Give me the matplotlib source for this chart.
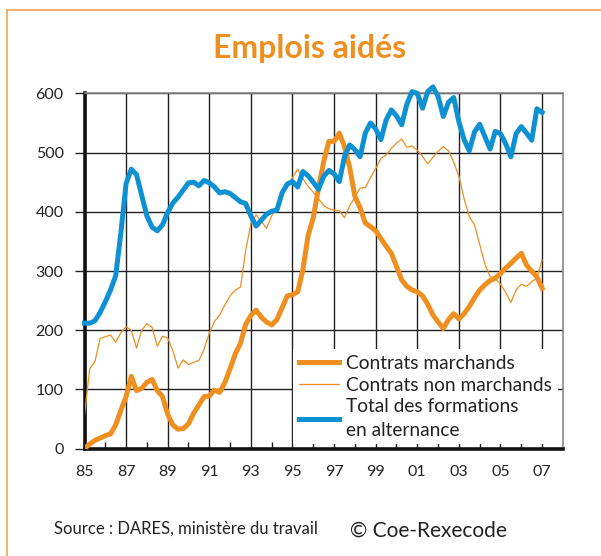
import numpy as np
import matplotlib.pyplot as plt
from matplotlib.lines import Line2D

plt.rcParams['font.family'] = ['Lato', 'DejaVu Sans']

# quarterly data, 1985Q1 .. 2007Q1
years = np.arange(1985, 2007.01, 0.25)

marchands = [0, 8, 14, 18, 22, 25, 40, 65, 88, 122, 98, 102, 112, 117, 98, 88,
             58, 40, 33, 34, 42, 60, 74, 88, 89, 99, 95, 112, 135, 160, 178, 210,
             225, 234, 222, 214, 209, 218, 238, 258, 260, 265, 302, 360, 390, 440,
             485, 519, 519, 533, 510, 475, 426, 407, 381, 375, 368, 355, 342, 330,
             308, 285, 274, 268, 265, 258, 244, 226, 214, 203, 218, 228, 219, 228,
             240, 255, 268, 277, 284, 288, 296, 305, 313, 322, 330, 310, 300, 290,
             271]

non_marchands = [57, 135, 147, 186, 189, 192, 180, 196, 206, 200, 170, 200, 211,
                 205, 173, 190, 187, 165, 136, 150, 142, 146, 149, 168, 195, 215,
                 226, 243, 258, 268, 273, 335, 380, 395, 384, 372, 393, 410, 428,
                 443, 458, 472, 456, 443, 433, 422, 411, 405, 403, 402, 390, 410,
                 425, 440, 441, 458, 473, 490, 496, 507, 516, 523, 509, 511, 504,
                 494, 481, 492, 502, 510, 503, 484, 460, 422, 392, 378, 345, 312,
                 291, 287, 278, 264, 247, 268, 278, 274, 282, 288, 319]

alternance = [212, 212, 216, 230, 248, 268, 292, 365, 448, 472, 463, 428, 393,
              374, 368, 378, 399, 415, 425, 437, 449, 450, 444, 453, 449, 442,
              432, 434, 431, 424, 417, 414, 393, 376, 386, 396, 401, 403, 432,
              447, 451, 442, 468, 461, 450, 438, 460, 470, 464, 451, 493, 513,
              505, 493, 533, 550, 540, 522, 555, 572, 562, 547, 582, 603, 600,
              575, 603, 611, 595, 561, 585, 593, 552, 522, 503, 535, 548, 527,
              506, 536, 532, 515, 493, 532, 544, 533, 521, 574, 568]

labels = ['Contrats marchands', 'Contrats non marchands',
          'Total des formations\nen alternance']
year_ticks = list(range(1985, 2008, 2))
year_labels = ['85', '87', '89', '91', '93', '95', '97', '99', '01', '03', '05', '07']

orange = '#EE8F1F'
blue = '#0E91D3'

fig = plt.figure(figsize=(6.01, 5.56), dpi=100)
ax = fig.add_axes([0.1406, 0.193, 0.796, 0.639])

ax.plot(years, marchands, color=orange, lw=3.6, solid_joinstyle='round', zorder=3)
ax.plot(years, non_marchands, color=orange, lw=0.9, zorder=3)
ax.plot(years, alternance, color=blue, lw=3.6, solid_joinstyle='round', zorder=4,
        clip_on=False)

ax.set_xlim(1985, 2008)
ax.set_ylim(0, 600)
ax.set_yticks(range(0, 601, 100))
ax.set_xticks(year_ticks)
ax.set_xticklabels(year_labels)
ax.set_xticks(range(1986, 2008, 2), minor=True)

ax.grid(True, which='major', color='#222222', lw=1.0)
ax.set_axisbelow(True)

for s in ['left', 'bottom']:
    ax.spines[s].set_linewidth(2.6)
    ax.spines[s].set_color('#111111')
for s in ['top', 'right']:
    ax.spines[s].set_linewidth(1.2)
    ax.spines[s].set_color('#888888')

ax.tick_params(axis='y', direction='out', length=7, width=1, pad=8,
               labelsize=11.5, colors='#222222')
ax.tick_params(axis='x', which='major', length=0, pad=12, labelsize=11.5,
               colors='#222222')
ax.tick_params(axis='x', which='minor', direction='in', length=5, width=1,
               color='#222222')

handles = [Line2D([], [], color=orange, lw=3.6),
           Line2D([], [], color=orange, lw=0.9),
           Line2D([], [], color=blue, lw=3.6)]
leg = ax.legend(handles, labels, loc='lower right', bbox_to_anchor=(0.989, 0.012),
                frameon=True, fancybox=False, framealpha=1, facecolor='white',
                edgecolor='none', fontsize=13.8, handlelength=2.1,
                handletextpad=0.35, labelspacing=0.24, borderpad=0.3,
                borderaxespad=0)
for t in leg.get_texts():
    t.set_color('#222222')
    t.set_linespacing(1.45)
leg.set_zorder(5)

fig.text(0.515, 0.912, 'Emplois aidés', ha='center', va='center',
         fontsize=23, fontweight='bold', color='#EE8F1F')
fig.text(0.09, 0.05, 'Source : DARES, ministère du travail', ha='left',
         va='center', fontsize=12, color='#222222')
fig.text(0.583, 0.045, '© Coe-Rexecode', ha='left', va='center',
         fontsize=15, color='#222222')

# orange frame
frame_c = '#F5A54E'
fig.add_artist(Line2D([7 / 601, 7 / 601], [0, 1 - 10 / 556], color=frame_c, lw=1.2))
fig.add_artist(Line2D([7 / 601, 1], [1 - 10 / 556, 1 - 10 / 556], color=frame_c, lw=1.2))

fig.savefig('out.png', dpi=100)
